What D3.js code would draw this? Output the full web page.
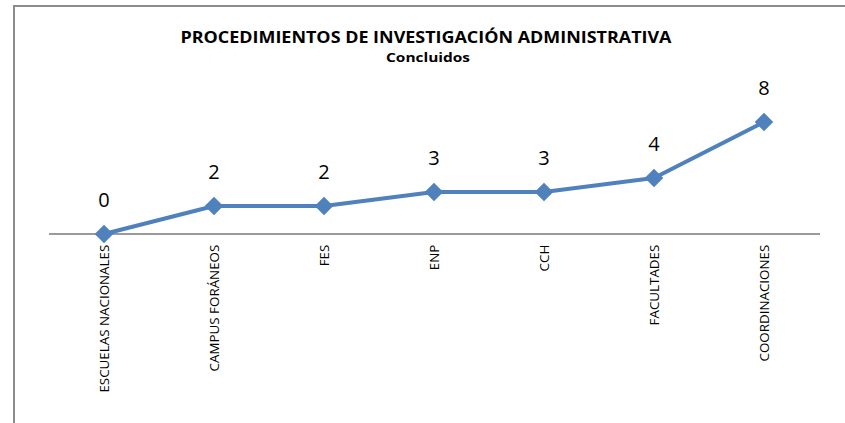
<!DOCTYPE html>
<html><head><meta charset="utf-8">
<script src="https://cdn.jsdelivr.net/npm/d3@7"></script>
<style>
html,body{margin:0;padding:0;background:#fff;}
svg{display:block;}
text{font-family:"Open Sans","Noto Sans",sans-serif;}
</style></head>
<body><div id="chart"></div>
<script>
const categories = ["ESCUELAS NACIONALES","CAMPUS FORÁNEOS","FES","ENP","CCH","FACULTADES","COORDINACIONES"];
const values = [0,2,2,3,3,4,8];
const title = "PROCEDIMIENTOS DE INVESTIGACIÓN ADMINISTRATIVA";
const subtitle = "Concluidos";

const W = 845, H = 423;
const svg = d3.select("#chart").append("svg").attr("width", W).attr("height", H);

svg.append("path")
  .attr("d", `M14,${H} L14,6 L${W},6`)
  .attr("fill","none").attr("stroke","#8c8c8c").attr("stroke-width",2);

const x = d3.scalePoint().domain(categories).range([104, 764]);
const y = d3.scaleLinear().domain([0, 9]).range([234, 108]);

const xAxis = d3.axisBottom(x).tickSize(0).tickPadding(0);
const gx = svg.append("g").attr("transform","translate(0,234)").call(xAxis);
gx.select(".domain").remove();
gx.append("line").attr("x1",49).attr("x2",820).attr("y1",0).attr("y2",0)
  .attr("stroke","#9a9a9a").attr("stroke-width",2);
gx.selectAll(".tick text")
  .attr("transform","rotate(-90) scale(1.07,1)")
  .attr("text-anchor","end")
  .attr("x",-10).attr("y",0).attr("dy","0.36em")
  .attr("fill","#000")
  .style("font-size","12.5px")
  .style("font-family","'Open Sans','Noto Sans',sans-serif");

const line = d3.line().x((d,i)=>x(categories[i])).y(d=>y(d));
svg.append("path").datum(values).attr("d", line)
  .attr("fill","none").attr("stroke","#4f81bd").attr("stroke-width",4)
  .attr("stroke-linejoin","round");

svg.selectAll(".mk").data(values).enter().append("path")
  .attr("class","mk")
  .attr("d", d3.symbol().type(d3.symbolDiamond2).size(220))
  .attr("transform",(d,i)=>`translate(${x(categories[i])},${y(d)})`)
  .attr("fill","#4f81bd");

svg.selectAll(".vl").data(values).enter().append("text")
  .attr("class","vl")
  .attr("x",(d,i)=>x(categories[i]))
  .attr("y",d=>y(d)-27)
  .attr("text-anchor","middle")
  .style("font-size","20px")
  .attr("fill","#000")
  .text(d=>d);

svg.append("text").attr("x",426).attr("y",43).attr("text-anchor","middle")
  .attr("textLength",491).attr("lengthAdjust","spacingAndGlyphs")
  .style("font-size","16px").style("font-weight","bold").text(title);
svg.append("text").attr("x",428).attr("y",62).attr("text-anchor","middle")
  .attr("textLength",84).attr("lengthAdjust","spacingAndGlyphs")
  .style("font-size","13px").style("font-weight","bold").text(subtitle);
</script></body></html>
